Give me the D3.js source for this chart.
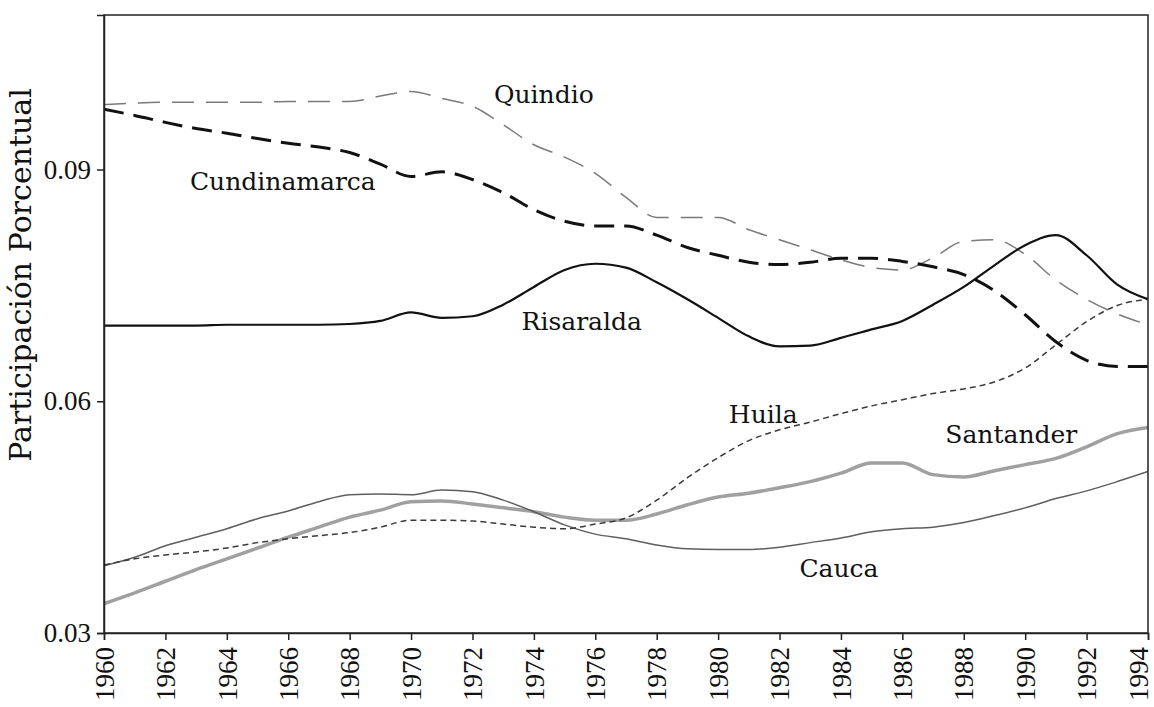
<!DOCTYPE html>
<html>
<head>
<meta charset="utf-8">
<script src="https://cdn.jsdelivr.net/npm/d3@7"></script>
<style>
  body { margin: 0; background: #fff; }
  svg { display: block; }
</style>
</head>
<body>
<div id="chart"></div>
<script>
// years on the x axis
const years = d3.range(1960, 1995);
const yearTicks = d3.range(1960, 1995, 2);
const yTicks = [0.03, 0.06, 0.09];

// values, one per year 1960..1994
const quindio = [0.0984, 0.0986, 0.0987, 0.0987, 0.0987, 0.0987, 0.0988, 0.0988, 0.0988, 0.0995,
  0.1001, 0.0992, 0.0982, 0.0958, 0.0932, 0.0916, 0.0895, 0.0864, 0.0838, 0.0838,
  0.0838, 0.0822, 0.0809, 0.0796, 0.0783, 0.0773, 0.0770, 0.0786, 0.0807, 0.0809,
  0.0790, 0.0757, 0.0732, 0.0713, 0.0699];
const cundinamarca = [0.0978, 0.0970, 0.0961, 0.0953, 0.0947, 0.0940, 0.0934, 0.0929, 0.0922, 0.0907,
  0.0891, 0.0897, 0.0887, 0.0870, 0.0848, 0.0833, 0.0827, 0.0827, 0.0815, 0.0799,
  0.0789, 0.0780, 0.0777, 0.0780, 0.0785, 0.0785, 0.0781, 0.0774, 0.0764, 0.0743,
  0.0712, 0.0677, 0.0653, 0.0645, 0.0645];
const risaralda = [0.0698, 0.0698, 0.0698, 0.0698, 0.0699, 0.0699, 0.0699, 0.0699, 0.0700, 0.0704,
  0.0715, 0.0708, 0.0710, 0.0725, 0.0748, 0.0770, 0.0778, 0.0773, 0.0754, 0.0732,
  0.0708, 0.0684, 0.0671, 0.0672, 0.0682, 0.0693, 0.0704, 0.0725, 0.0748, 0.0776,
  0.0802, 0.0815, 0.0789, 0.0751, 0.0732];
const huila = [0.0388, 0.0396, 0.0401, 0.0405, 0.0410, 0.0417, 0.0422, 0.0426, 0.0430, 0.0437,
  0.0446, 0.0446, 0.0445, 0.0441, 0.0437, 0.0435, 0.0441, 0.0449, 0.0472, 0.0501,
  0.0527, 0.0549, 0.0563, 0.0573, 0.0584, 0.0594, 0.0602, 0.0610, 0.0616, 0.0625,
  0.0643, 0.0673, 0.0703, 0.0724, 0.0732];
const santander = [0.0338, 0.0352, 0.0367, 0.0382, 0.0396, 0.0410, 0.0424, 0.0437, 0.0450, 0.0459,
  0.0470, 0.0471, 0.0467, 0.0462, 0.0457, 0.0450, 0.0446, 0.0446, 0.0454, 0.0466,
  0.0476, 0.0481, 0.0488, 0.0496, 0.0507, 0.0520, 0.0520, 0.0505, 0.0502, 0.0510,
  0.0518, 0.0526, 0.0541, 0.0558, 0.0566];
const cauca = [0.0387, 0.0398, 0.0413, 0.0424, 0.0435, 0.0448, 0.0458, 0.0470, 0.0479, 0.0480,
  0.0479, 0.0485, 0.0483, 0.0472, 0.0457, 0.0440, 0.0428, 0.0422, 0.0414, 0.0409,
  0.0408, 0.0408, 0.0411, 0.0417, 0.0423, 0.0431, 0.0435, 0.0437, 0.0443, 0.0452,
  0.0462, 0.0474, 0.0484, 0.0496, 0.0509];

// label placement: [name, year, value] for the text baseline start
const labels = [
  ['Quindio', 1972.7, 0.0986],
  ['Cundinamarca', 1962.8, 0.0873],
  ['Risaralda', 1973.6, 0.0692],
  ['Huila', 1980.35, 0.0572],
  ['Santander', 1987.4, 0.0546],
  ['Cauca', 1982.65, 0.0372]
];

const series = [
  { name: 'Santander', values: santander, color: '#a0a0a0', width: 3.5, dash: null },
  { name: 'Cauca', values: cauca, color: '#5e5e5e', width: 1.5, dash: null },
  { name: 'Huila', values: huila, color: '#3a3a3a', width: 1.5, dash: '6,4' },
  { name: 'Quindio', values: quindio, color: '#7a7a7a', width: 1.5, dash: '22,12' },
  { name: 'Cundinamarca', values: cundinamarca, color: '#111', width: 3, dash: '20,10' },
  { name: 'Risaralda', values: risaralda, color: '#111', width: 2.2, dash: null }
];

const width = 1154;
const height = 707;
const margin = { top: 15, right: 6, bottom: 74, left: 104 };

const svg = d3.select('#chart')
  .append('svg')
  .attr('width', width)
  .attr('height', height);

const xScale = d3.scaleLinear()
  .domain([1960, 1994])
  .range([margin.left, width - margin.right]);

const yScale = d3.scaleLinear()
  .domain([0.03, 0.11])
  .range([height - margin.bottom, margin.top]);

svg.append('clipPath')
  .attr('id', 'plot-clip')
  .append('rect')
  .attr('x', margin.left)
  .attr('y', margin.top)
  .attr('width', width - margin.left - margin.right)
  .attr('height', height - margin.top - margin.bottom);

// lines
const line = d3.line()
  .x((d, i) => xScale(years[i]))
  .y(d => yScale(d))
  .curve(d3.curveMonotoneX);

svg.append('g')
  .attr('clip-path', 'url(#plot-clip)')
  .selectAll('path')
  .data(series)
  .join('path')
  .attr('fill', 'none')
  .attr('stroke', d => d.color)
  .attr('stroke-width', d => d.width)
  .attr('stroke-dasharray', d => d.dash)
  .attr('stroke-linejoin', 'round')
  .attr('d', d => line(d.values));

// frame
svg.append('rect')
  .attr('x', margin.left)
  .attr('y', margin.top)
  .attr('width', width - margin.left - margin.right)
  .attr('height', height - margin.top - margin.bottom)
  .attr('fill', 'none')
  .attr('stroke', '#222')
  .attr('stroke-width', 1.5);

// axes
const xAxis = d3.axisBottom(xScale)
  .tickValues(yearTicks)
  .tickFormat(d3.format('d'))
  .tickSize(7);

const gx = svg.append('g')
  .attr('transform', `translate(0, ${height - margin.bottom})`)
  .call(xAxis);

gx.selectAll('text')
  .attr('transform', 'rotate(-90)')
  .attr('text-anchor', 'end')
  .attr('x', -14)
  .attr('y', d => (d === 1994 ? -10 : 0)) // keep last label inside the window
  .attr('dy', '0.34em');

const yAxis = d3.axisLeft(yScale)
  .tickValues(yTicks)
  .tickFormat(d3.format('.2f'))
  .tickSize(7);

const gy = svg.append('g')
  .attr('transform', `translate(${margin.left}, 0)`)
  .call(yAxis);

svg.selectAll('.domain').attr('stroke', '#222').attr('stroke-width', 1.5);
svg.selectAll('.tick line').attr('stroke', '#222').attr('stroke-width', 1.5);
svg.selectAll('.tick text')
  .attr('fill', '#111')
  .style('font-family', '"Liberation Serif", serif')
  .style('font-size', '27px');
gy.selectAll('text').attr('x', -13);

// y label
svg.append('text')
  .attr('transform', `translate(31, 275) rotate(-90)`)
  .attr('text-anchor', 'middle')
  .style('font-family', '"DejaVu Serif", serif')
  .style('font-size', '30px')
  .attr('fill', '#111')
  .text('Participación Porcentual');

// series labels
svg.append('g')
  .selectAll('text')
  .data(labels)
  .join('text')
  .attr('x', d => xScale(d[1]))
  .attr('y', d => yScale(d[2]))
  .style('font-family', '"DejaVu Serif", serif')
  .style('font-size', '25px')
  .attr('fill', '#111')
  .text(d => d[0]);
</script>
</body>
</html>
